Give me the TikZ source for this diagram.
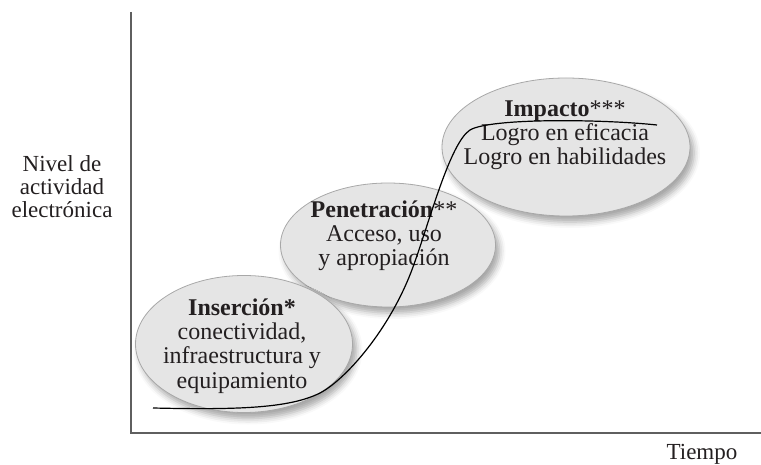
\documentclass[tikz,border=0pt]{standalone}
\usepackage{fontspec}
\setmainfont{Liberation Serif}
\usetikzlibrary{shapes.geometric,shadows.blur}

\definecolor{bubblefill}{RGB}{229,229,229}
\definecolor{bubbleline}{RGB}{168,168,168}
\definecolor{axisgray}{RGB}{95,95,95}
\definecolor{inkgray}{RGB}{35,31,32}

\tikzset{
  bubble/.style={ellipse, draw=bubbleline, fill=bubblefill, line width=0.8pt, inner sep=0pt,
    blur shadow={shadow xshift=4pt, shadow yshift=-6pt, shadow blur radius=6pt, shadow opacity=35}},
  bubbletext/.style={align=center, text=inkgray, inner sep=0pt, font=\fontsize{24}{24.2}\selectfont},
  axislabel/.style={align=center, text=inkgray, inner sep=0pt, font=\fontsize{23}{23}\selectfont},
}

\begin{document}
\begin{tikzpicture}[x=1pt,y=-1pt]
    % --- Frame of the picture ---
    \useasboundingbox (0,0) rectangle (761,465);

    % --- Coordinates ---
    \coordinate (O) at (131,433);     % Origin
    \coordinate (Ytop) at (131,12);   % Top of vertical axis
    \coordinate (Xend) at (761,433);  % End of horizontal axis

    % --- Bubbles (back to front) ---
    \node[bubble, minimum width=248pt, minimum height=138pt] (impacto) at (566,147) {};
    \node[bubble, minimum width=215pt, minimum height=124pt] (penetracion) at (388,245) {};
    \node[bubble, minimum width=217pt, minimum height=137pt] (insercion) at (244,344) {};

    % --- Texts in the bubbles ---
    \node[bubbletext] (impacto-txt) at (565,135)
        {\textbf{Impacto}***\\Logro en eficacia\\Logro en habilidades};
    \node[bubbletext] (penetracion-txt) at (384,236)
        {\textbf{Penetración}**\\Acceso, uso\\y apropiación};
    \node[bubbletext] (insercion-txt) at (242,346)
        {\textbf{Inserción*}\\conectividad,\\infraestructura y\\equipamiento};

    % --- S-curve ---
    \draw[line width=1.2pt, black] (153,408)
        .. controls (240,410) and (290,408) .. (320,393)
        .. controls (345,380) and (390,330) .. (413,267)
        .. controls (430,220) and (450,143) .. (470,130)
        .. controls (490,118) and (600,119) .. (657,125);

    % --- Axes ---
    \draw[line width=2pt, axisgray] (Ytop) -- (O) -- (Xend);

    % --- Labels ---
    \node[axislabel] (ylabel) at (62,187) {Nivel de\\actividad\\electrónica};
    \node[axislabel, anchor=base] (xlabel) at (702,459) {Tiempo};

\end{tikzpicture}
\end{document}
